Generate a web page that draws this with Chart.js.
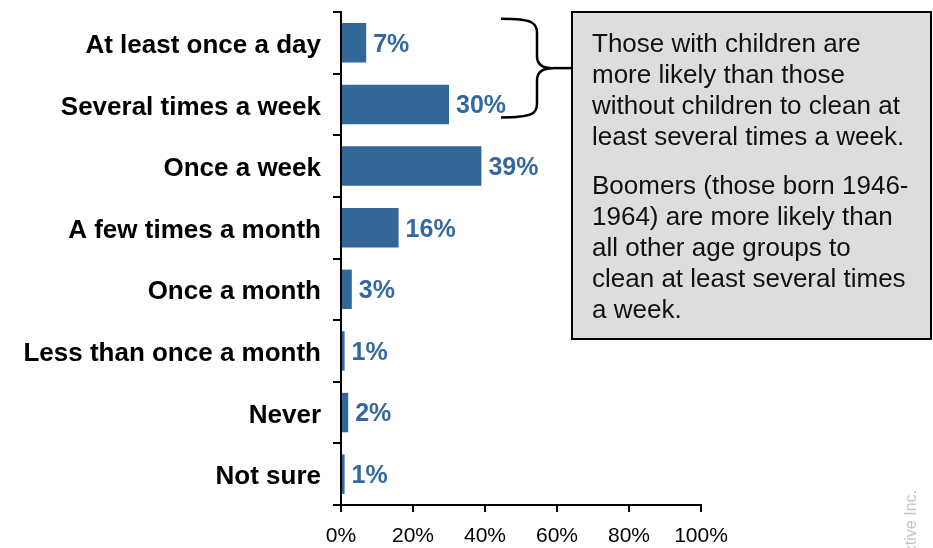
<!DOCTYPE html>
<html>
<head>
<meta charset="utf-8">
<script src="https://cdn.jsdelivr.net/npm/chart.js@4.4.1/dist/chart.umd.min.js"></script>
<style>
  html, body { margin: 0; padding: 0; background: #fff; }
  #wrap { width: 933px; height: 548px; position: relative; }
</style>
</head>
<body>
<div id="wrap"><canvas id="chart" width="933" height="548"></canvas></div>
<script>
const categories = [
  'At least once a day',
  'Several times a week',
  'Once a week',
  'A few times a month',
  'Once a month',
  'Less than once a month',
  'Never',
  'Not sure'
];
const shares = [7, 30, 39, 16, 3, 1, 2, 1];
const xTicks = [0, 20, 40, 60, 80, 100];

const noteParagraphs = [
  ['Those with children are', 'more likely than those', 'without children to clean at', 'least several times a week.'],
  ['Boomers (those born 1946-', '1964) are more likely than', 'all other age groups to', 'clean at least several times', 'a week.']
];

const BAR_BLUE = '#336699';
const LABEL_BLUE = '#3468a0';
const FONT = '"Liberation Sans", Arial, sans-serif';

// percent labels just past the end of each bar
const valueLabels = {
  id: 'valueLabels',
  afterDatasetsDraw(chart) {
    const ctx = chart.ctx;
    const meta = chart.getDatasetMeta(0);
    ctx.save();
    ctx.font = 'bold 25px ' + FONT;
    ctx.fillStyle = LABEL_BLUE;
    ctx.textAlign = 'left';
    ctx.textBaseline = 'middle';
    meta.data.forEach((bar, i) => {
      ctx.fillText(shares[i] + '%', bar.x + 7, bar.y + 2);
    });
    ctx.restore();
  }
};

// callout box, brace over the first two rows, and the side credit line
const callout = {
  id: 'callout',
  afterDraw(chart) {
    const ctx = chart.ctx;
    const y = chart.scales.y;
    ctx.save();

    // box
    const bx = 572, by = 12, bw = 359, bh = 327;
    ctx.fillStyle = '#dddddd';
    ctx.fillRect(bx, by, bw, bh);
    ctx.strokeStyle = '#000';
    ctx.lineWidth = 2;
    ctx.strokeRect(bx, by, bw, bh);

    // text
    ctx.fillStyle = '#111';
    ctx.font = '26px ' + FONT;
    ctx.textAlign = 'left';
    ctx.textBaseline = 'middle';
    let ty = 45;
    noteParagraphs.forEach((para, p) => {
      if (p > 0) ty += 18;
      para.forEach(line => {
        ctx.fillText(line, 592, ty);
        ty += 31;
      });
    });

    // brace spanning the first two categories
    const top = y.getPixelForValue(0) - 24;
    const bot = y.getPixelForValue(1) + 13;
    const mid = (top + bot) / 2;
    const x0 = 501, x1 = 537, tip = 553;
    ctx.strokeStyle = '#000';
    ctx.lineWidth = 2.5;
    ctx.beginPath();
    ctx.moveTo(x0, top);
    ctx.bezierCurveTo(x1 - 4, top, x1, top + 4, x1, top + 14);
    ctx.lineTo(x1, mid - 12);
    ctx.bezierCurveTo(x1, mid - 2, tip - 8, mid, tip, mid);
    ctx.bezierCurveTo(tip - 8, mid, x1, mid + 2, x1, mid + 12);
    ctx.lineTo(x1, bot - 14);
    ctx.bezierCurveTo(x1, bot - 4, x1 - 4, bot, x0, bot);
    ctx.stroke();
    ctx.beginPath();
    ctx.moveTo(tip, mid);
    ctx.lineTo(bx, mid);
    ctx.stroke();

    // credit, running up the right edge
    ctx.translate(912, 490);
    ctx.rotate(-Math.PI / 2);
    ctx.font = '16px ' + FONT;
    ctx.fillStyle = '#c4c4c4';
    ctx.textAlign = 'right';
    ctx.fillText('Harris Interactive Inc.', 0, 0);
    ctx.restore();
  }
};

new Chart(document.getElementById('chart'), {
  type: 'bar',
  data: {
    labels: categories,
    datasets: [{
      data: shares,
      backgroundColor: BAR_BLUE,
      borderWidth: 0,
      barPercentage: 0.64,
      categoryPercentage: 1
    }]
  },
  options: {
    indexAxis: 'y',
    responsive: false,
    animation: false,
    devicePixelRatio: 1,
    layout: { padding: { top: 12, right: 232, bottom: 0, left: 0 } },
    plugins: { legend: { display: false }, tooltip: { enabled: false } },
    scales: {
      x: {
        min: 0,
        max: 100,
        afterBuildTicks: scale => { scale.ticks = xTicks.map(v => ({ value: v })); },
        afterFit: scale => { scale.height = 43; scale.paddingLeft = 0; scale.paddingRight = 0; },
        border: { display: true, color: '#000', width: 2 },
        grid: { drawOnChartArea: false, drawTicks: true, tickLength: 7, color: '#000', lineWidth: 2 },
        ticks: {
          callback: v => v + '%',
          color: '#000',
          padding: 12,
          maxRotation: 0,
          font: { family: FONT, size: 21 }
        }
      },
      y: {
        afterFit: scale => { scale.width = 341; scale.paddingTop = 0; scale.paddingBottom = 0; },
        border: { display: true, color: '#000', width: 2 },
        grid: { offset: true, drawOnChartArea: false, drawTicks: true, tickLength: 8, color: '#000', lineWidth: 2 },
        ticks: {
          color: '#000',
          padding: 12,
          labelOffset: 3,
          autoSkip: false,
          font: { family: FONT, size: 26, weight: 'bold' }
        }
      }
    }
  },
  plugins: [valueLabels, callout]
});
</script>
</body>
</html>
